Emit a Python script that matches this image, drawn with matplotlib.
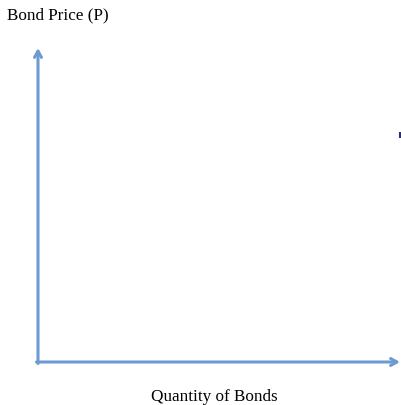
import matplotlib
matplotlib.use("Agg")
import matplotlib.pyplot as plt

y_label = "Bond Price (P)"
x_label = "Quantity of Bonds"
axis_color = "#6C9BD2"

W, H = 401, 406
fig = plt.figure(figsize=(W / 100, H / 100), dpi=100)
ax = fig.add_axes([0, 0, 1, 1])
ax.set_xlim(0, W)
ax.set_ylim(H, 0)
ax.axis("off")

origin = (38, 363)
style = "->,head_length=0.45,head_width=0.25"
# vertical axis arrow
ax.annotate("", xy=(origin[0], 49), xytext=(origin[0], origin[1] + 1.5),
            arrowprops=dict(arrowstyle=style, color=axis_color, lw=2.2,
                            shrinkA=0, shrinkB=0))
# horizontal axis arrow
ax.annotate("", xy=(400, origin[1]), xytext=(origin[0] - 1.5, origin[1]),
            arrowprops=dict(arrowstyle=style, color=axis_color, lw=2.2,
                            shrinkA=0, shrinkB=0))
# small clipped mark at right edge
ax.plot([400, 400], [133, 139], color="#2B2F6E", lw=1.5, solid_capstyle="butt")

ax.text(7, 15, y_label, fontsize=12.3, family="Liberation Serif",
        ha="left", va="center", color="black")
ax.text(214, 397, x_label, fontsize=12.3, family="Liberation Serif",
        ha="center", va="center", color="black")

fig.savefig("out.png", dpi=100)
